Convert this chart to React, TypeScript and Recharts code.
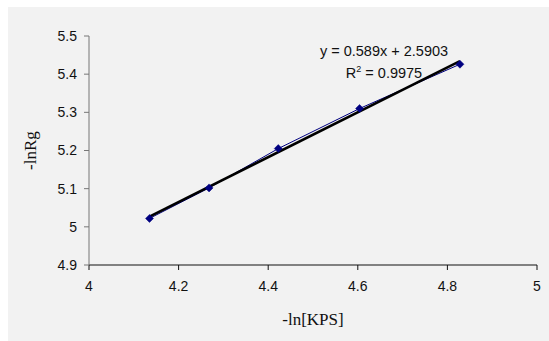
import React from "react";
import { ComposedChart, Line, XAxis, YAxis, Label } from "recharts";

const lnKps = [4.135, 4.268, 4.4225, 4.604, 4.828];
const lnRg = [5.022, 5.102, 5.205, 5.31, 5.426];

// trendline ends
const trendX = [4.135, 4.828];
const trendY = [5.027, 5.434];

const xTicks = [4, 4.2, 4.4, 4.6, 4.8, 5];
const yTicks = [4.9, 5, 5.1, 5.2, 5.3, 5.4, 5.5];

const equationText = "y = 0.589x + 2.5903";
const r2Value = "0.9975";

const points = lnKps.map((x, i) => ({ x, y: lnRg[i] }));
const trend = trendX.map((x, i) => ({ x, y: trendY[i] }));

const Diamond = (props: any) => {
  const { cx, cy } = props;
  if (cx == null || cy == null) return null;
  const r = 4;
  return (
    <path
      d={`M${cx},${cy - r} L${cx + r},${cy} L${cx},${cy + r} L${cx - r},${cy} Z`}
      fill="#000080"
      stroke="#000080"
      strokeWidth={0.5}
    />
  );
};

const tickStyle = { fontFamily: "Liberation Sans, Arial, sans-serif", fontSize: 14, fill: "#111" };
const titleFont = "Liberation Serif, Times New Roman, serif";

export default function App() {
  return (
    <div
      style={{
        position: "fixed",
        left: 8,
        top: 7,
        width: 541,
        height: 334,
        background: "#f2f2f2",
      }}
    >
      <ComposedChart
        width={541}
        height={334}
        margin={{ top: 29, right: 12, bottom: 0, left: 0 }}
      >
        <XAxis
          type="number"
          dataKey="x"
          domain={[4, 5]}
          ticks={xTicks}
          allowDataOverflow
          height={76}
          tickSize={5}
          tickMargin={11}
          stroke="#111"
          tick={tickStyle}
          tickFormatter={(v: number) => String(v)}
        >
          <Label
            value="-ln[KPS]"
            position="insideTop"
            offset={48}
            style={{ fontFamily: titleFont, fontSize: 17, fill: "#111" }}
          />
        </XAxis>
        <YAxis
          type="number"
          dataKey="y"
          domain={[4.9, 5.5]}
          ticks={yTicks}
          allowDataOverflow
          width={81}
          tickSize={5}
          tickMargin={7}
          stroke="#777"
          tick={tickStyle}
          tickFormatter={(v: number) => String(v)}
        >
          <Label
            value="-lnRg"
            angle={-90}
            position="insideLeft"
            offset={22}
            style={{ fontFamily: titleFont, fontSize: 17, fill: "#111", textAnchor: "middle" }}
          />
        </YAxis>
        <Line
          data={points}
          dataKey="y"
          stroke="#000080"
          strokeWidth={1}
          dot={false}
          isAnimationActive={false}
        />
        <Line
          data={trend}
          dataKey="y"
          stroke="#000"
          strokeWidth={2.5}
          dot={false}
          isAnimationActive={false}
        />
        <Line
          data={points}
          dataKey="y"
          stroke="none"
          dot={<Diamond />}
          activeDot={false}
          isAnimationActive={false}
        />
      </ComposedChart>
      <div
        style={{
          position: "absolute",
          left: 296,
          top: 33,
          width: 160,
          textAlign: "center",
          fontFamily: "Liberation Sans, Arial, sans-serif",
          fontSize: 14.5,
          color: "#111",
          lineHeight: "22px",
        }}
      >
        <div>{equationText}</div>
        <div>
          R<sup style={{ fontSize: 9, verticalAlign: "top", lineHeight: "14px" }}>2</sup> = {r2Value}
        </div>
      </div>
    </div>
  );
}
